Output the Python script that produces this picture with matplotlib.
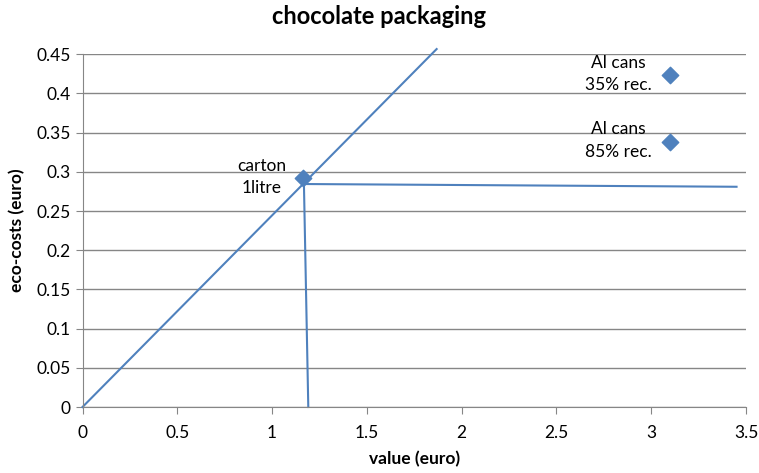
import matplotlib.pyplot as plt

plt.rcParams['font.family'] = ['Lato', 'DejaVu Sans']

# packaging options: value vs eco-costs
labels = ['carton\n1litre', 'Al cans\n35% rec.', 'Al cans\n85% rec.']
values = [1.164, 3.10, 3.10]
eco_costs = [0.292, 0.423, 0.338]

# eco-cost/value ratio line and the two guide lines through the carton
ratio_x = [0, 1.868]
ratio_y = [0, 0.4567]
horiz_x = [1.168, 3.45]
horiz_y = [0.2845, 0.281]
vert_x = [1.168, 1.191]
vert_y = [0.2845, 0]

blue = '#4F81BD'
grey = '#868686'

fig = plt.figure(figsize=(7.59, 4.73), dpi=100)
ax = fig.add_axes([0.1087, 0.1395, 0.8742, 0.7457])

ax.plot(ratio_x, ratio_y, color=blue, lw=1.5, zorder=2, clip_on=False)
ax.plot(horiz_x, horiz_y, color=blue, lw=1.5, zorder=2)
ax.plot(vert_x, vert_y, color=blue, lw=1.5, zorder=2, clip_on=False)
ax.scatter(values, eco_costs, marker='D', s=70, color=blue, zorder=3)

for lab, x, y in zip(labels, values, eco_costs):
    if lab.startswith('carton'):
        ax.annotate(lab, (x, y), xytext=(-30, 1), textcoords='offset points',
                    ha='center', va='center', multialignment='center',
                    fontsize=12.5, linespacing=1.5)
    else:
        ax.annotate(lab, (x, y), xytext=(-37, 1), textcoords='offset points',
                    ha='center', va='center', multialignment='center',
                    fontsize=12.5, linespacing=1.5)

ax.set_xlim(0, 3.5)
ax.set_ylim(0, 0.45)
ax.set_xticks([0, 0.5, 1, 1.5, 2, 2.5, 3, 3.5])
ax.set_xticklabels(['0', '0.5', '1', '1.5', '2', '2.5', '3', '3.5'])
ax.set_yticks([0, 0.05, 0.1, 0.15, 0.2, 0.25, 0.3, 0.35, 0.4, 0.45])
ax.set_yticklabels(['0', '0.05', '0.1', '0.15', '0.2', '0.25', '0.3', '0.35', '0.4', '0.45'])
ax.yaxis.grid(True, color=grey, lw=1)
ax.set_axisbelow(True)
ax.tick_params(axis='both', colors=grey, labelcolor='black', labelsize=12.5, length=5)
ax.tick_params(axis='x', pad=8)
for side in ['top', 'right']:
    ax.spines[side].set_visible(False)
for side in ['left', 'bottom']:
    ax.spines[side].set_color(grey)

ax.set_xlabel('value (euro)', fontsize=12.5, fontweight='bold', labelpad=7)
ax.set_ylabel('eco-costs (euro)', fontsize=12.5, fontweight='bold', labelpad=8)
fig.suptitle('chocolate packaging', fontsize=17, fontweight='bold', y=0.99)

fig.savefig('out.png', dpi=100)
